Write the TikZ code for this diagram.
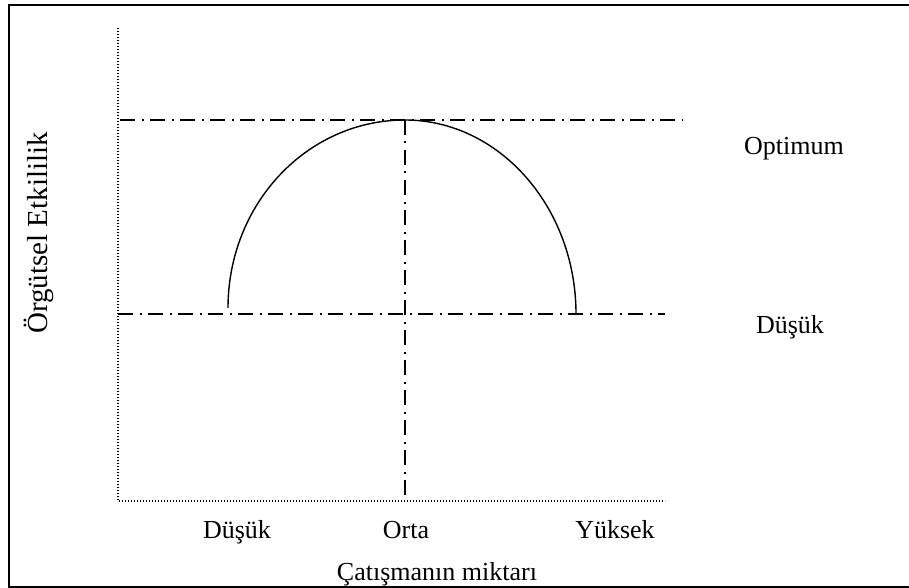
\documentclass[tikz,border=0pt]{standalone}
\usepackage{fontspec}
\setmainfont{Liberation Serif}
\usetikzlibrary{positioning}

\tikzset{
    dashdot/.style={line width=1.3pt, dash pattern=on 15pt off 6.5pt on 2pt off 6.5pt},
    dotaxis/.style={line width=1.6pt, dash pattern=on 1.4pt off 1.6pt},
    lbl/.style={font=\fontsize{26}{31}\selectfont, inner sep=0pt, anchor=base},
}

\begin{document}
\begin{tikzpicture}[x=1pt, y=-1pt]
    \useasboundingbox (0,0) rectangle (909,588);
    % frame
    \draw[line width=2pt] (909,5.5) -- (8.5,5.5) -- (8.5,587) -- (909,587);

    % axes
    \coordinate (ytop) at (118,28);
    \coordinate (o) at (118,501);
    \coordinate (xend) at (665,501);
    \draw[dotaxis] (ytop) -- (o) -- (xend);

    % levels
    \coordinate (optL) at (120,120);
    \coordinate (optR) at (683,120);
    \coordinate (lowL) at (118,314);
    \coordinate (lowR) at (665,314);
    \coordinate (peak) at (405,120);
    \coordinate (mid) at (405,501);
    \draw[dashdot] (optL) -- (optR);
    \draw[dashdot] (lowL) -- (lowR);
    \draw[dashdot] (peak) -- (mid);

    % curve
    \coordinate (cl) at (228,308);
    \coordinate (cr) at (576,314);
    \draw[line width=1.4pt] (cl) .. controls (228,204) and (307,120) .. (peak)
        .. controls (499,120) and (576,207) .. (cr);

    % labels
    \node[lbl] (optimum) at (794,155) {Optimum};
    \node[lbl] (lowlvl) at (790,333) {Düşük};
    \node[lbl] (dusuk) at (237,538) {Düşük};
    \node[lbl] (orta) at (406,538) {Orta};
    \node[lbl] (yuksek) at (615,538) {Yüksek};
    \node[lbl] (xlabel) at (437,580) {Çatışmanın miktarı};
    \node[lbl, font=\fontsize{29}{34}\selectfont, rotate=90] (ylabel) at (47,233) {Örgütsel Etkililik};
\end{tikzpicture}
\end{document}
